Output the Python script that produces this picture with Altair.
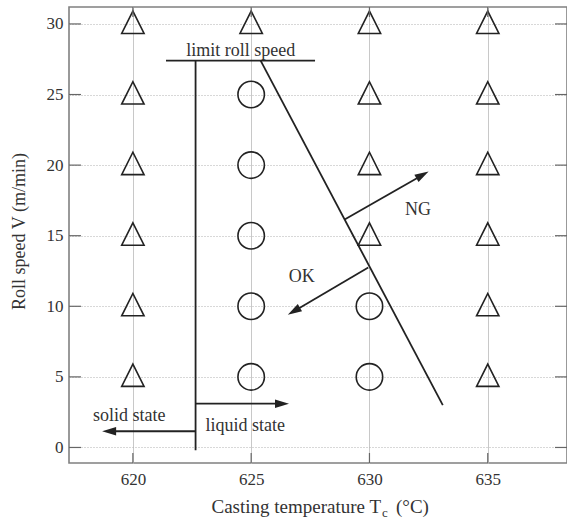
import math

import altair as alt
import pandas as pd

# ---- trial results: open circle = OK, open triangle = NG ----
circle_T = [625, 625, 625, 625, 625, 630, 630]
circle_V = [5, 10, 15, 20, 25, 5, 10]
triangle_T = [620, 620, 620, 620, 620, 620, 625, 630, 630, 630, 630,
              635, 635, 635, 635, 635, 635]
triangle_V = [5, 10, 15, 20, 25, 30, 30, 15, 20, 25, 30,
              5, 10, 15, 20, 25, 30]

x_ticks = [620, 625, 630, 635]
y_ticks = [0, 5, 10, 15, 20, 25, 30]

# ---- boundary lines (limit roll speed, solidus line, process limit) ----
line_x1 = [621.4, 622.65, 625.4]
line_y1 = [27.4, 27.4, 27.4]
line_x2 = [627.7, 622.65, 633.1]
line_y2 = [27.4, -0.2, 3.0]

# ---- arrows: NG, OK, liquid state, solid state ----
arrow_x1 = [628.95, 629.95, 622.65, 622.65]
arrow_y1 = [16.15, 12.75, 3.1, 1.15]
arrow_x2 = [632.5, 626.55, 626.6, 618.7]
arrow_y2 = [19.55, 9.4, 3.1, 1.15]

# ---- annotations ----
label_text = ["limit roll speed", "NG", "OK", "solid state", "liquid state"]
label_x = [624.56, 632.05, 627.14, 619.85, 624.75]
label_y = [28.1, 16.8, 12.07, 2.23, 1.49]

x_title_parts = ["Casting temperature T", "c", "(°C)"]
y_title = "Roll speed V (m/min)"

# ---- layout ----
W, H = 498, 456
X_DOM = [617.3, 638.35]
Y_DOM = [-1.1, 31.2]
SERIF = "Liberation Serif"
INK = "#222222"
TEXT = "#333333"

px_x = W / (X_DOM[1] - X_DOM[0])
px_y = H / (Y_DOM[1] - Y_DOM[0])

xs = alt.Scale(domain=X_DOM, zero=False, nice=False)
ys = alt.Scale(domain=Y_DOM, zero=False, nice=False)

# arrow shafts stop at the head's base; head drawn as rotated symbol
HEAD_LEN = 14.0
rows = []
for x1, y1, x2, y2 in zip(arrow_x1, arrow_y1, arrow_x2, arrow_y2):
    dxp = (x2 - x1) * px_x
    dyp = (y2 - y1) * px_y
    L = math.hypot(dxp, dyp)
    ang = math.degrees(math.atan2(dxp, dyp)) % 360
    bx = x2 - (x2 - x1) * (HEAD_LEN - 2) / L
    by = y2 - (y2 - y1) * (HEAD_LEN - 2) / L
    rows.append(dict(x1=x1, y1=y1, bx=bx, by=by, x2=x2, y2=y2, ang=ang))
arrows = pd.DataFrame(rows)

circles = pd.DataFrame({"T": circle_T, "V": circle_V})
triangles = pd.DataFrame({"T": triangle_T, "V": triangle_V})
lines = pd.DataFrame({"x1": line_x1, "y1": line_y1, "x2": line_x2, "y2": line_y2})
labels = pd.DataFrame({"t": label_text, "x": label_x, "y": label_y})
xt = pd.DataFrame({"v": x_ticks})
yt = pd.DataFrame({"v": y_ticks})

x_axis = alt.Axis(values=x_ticks, grid=True, gridColor="#c8c8c8", gridWidth=1,
                  ticks=False, domain=False, labelFont=SERIF, labelFontSize=17,
                  labelColor=TEXT, labelPadding=8, title=None)
y_axis = alt.Axis(values=y_ticks, grid=True, gridColor="#b0b0b0", gridDash=[1, 2],
                  gridWidth=1, ticks=False, domain=False, labelFont=SERIF,
                  labelFontSize=17, labelColor=TEXT, labelPadding=6,
                  title=y_title, titleFont=SERIF, titleFontSize=18,
                  titleFontWeight="normal", titleColor=TEXT,
                  titleX=-50, titleY=224, titleBaseline="middle")


def X(field):
    return alt.X(field, scale=xs, axis=x_axis)


def Y(field):
    return alt.Y(field, scale=ys, axis=y_axis)


tri_layer = alt.Chart(triangles).mark_point(
    shape="M-1,0.85L1,0.85L0,-1.15Z", size=500, filled=False,
    stroke=INK, strokeWidth=1.6, opacity=1
).encode(x=X("T:Q"), y=Y("V:Q"))

circ_layer = alt.Chart(circles).mark_point(
    shape="circle", size=700, filled=False, stroke=INK, strokeWidth=1.6, opacity=1
).encode(x=X("T:Q"), y=Y("V:Q"))

line_layer = alt.Chart(lines).mark_rule(color=INK, strokeWidth=1.8).encode(
    x=X("x1:Q"), y=Y("y1:Q"), x2="x2:Q", y2="y2:Q")

shaft_layer = alt.Chart(arrows).mark_rule(color=INK, strokeWidth=1.8).encode(
    x=X("x1:Q"), y=Y("y1:Q"), x2="bx:Q", y2="by:Q")

head_layer = alt.Chart(arrows).mark_point(
    shape="M0,0L0.6,2L-0.6,2Z", size=HEAD_LEN ** 2, filled=True,
    color=INK, opacity=1
).encode(x=X("x2:Q"), y=Y("y2:Q"), angle=alt.Angle("ang:Q", scale=None))

label_layer = alt.Chart(labels).mark_text(
    font=SERIF, fontSize=18, color=TEXT, align="center", baseline="middle"
).encode(x=X("x:Q"), y=Y("y:Q"), text="t:N")

# inward tick marks on all four sides
tick_col = "#666666"
tb = alt.Chart(xt).mark_rule(color=tick_col, strokeWidth=1.2).encode(
    x=X("v:Q"), y=alt.value(H), y2=alt.value(H - 10))
tt = alt.Chart(xt).mark_rule(color=tick_col, strokeWidth=1.2).encode(
    x=X("v:Q"), y=alt.value(0), y2=alt.value(10))
tl = alt.Chart(yt).mark_rule(color=tick_col, strokeWidth=1.2).encode(
    y=Y("v:Q"), x=alt.value(0), x2=alt.value(12))
tr = alt.Chart(yt).mark_rule(color=tick_col, strokeWidth=1.2).encode(
    y=Y("v:Q"), x=alt.value(W), x2=alt.value(W - 12))

# x-axis title with subscript
xt_df = pd.DataFrame({"t": x_title_parts})
xtitle_main = alt.Chart(xt_df).transform_filter(alt.datum.t == x_title_parts[0]).mark_text(
    font=SERIF, fontSize=19, color=TEXT, align="right", baseline="middle"
).encode(text="t:N", x=alt.value(312), y=alt.value(500))
xtitle_sub = alt.Chart(xt_df).transform_filter(alt.datum.t == x_title_parts[1]).mark_text(
    font=SERIF, fontSize=13, color=TEXT, align="left", baseline="middle"
).encode(text="t:N", x=alt.value(313), y=alt.value(506))
xtitle_unit = alt.Chart(xt_df).transform_filter(alt.datum.t == x_title_parts[2]).mark_text(
    font=SERIF, fontSize=19, color=TEXT, align="left", baseline="middle"
).encode(text="t:N", x=alt.value(327), y=alt.value(500))

chart = alt.layer(
    tri_layer, circ_layer,
    tb, tt, tl, tr,
    line_layer, shaft_layer, head_layer,
    label_layer,
    xtitle_main, xtitle_sub, xtitle_unit,
).properties(
    width=W, height=H,
    autosize=alt.AutoSizeParams(type="none"),
    padding={"left": 69, "top": 7, "right": 0, "bottom": 56},
    background="white",
).configure_view(stroke="#808080", strokeWidth=1.6)

chart.save("out.html", embed_options={"renderer": "svg", "actions": False})
